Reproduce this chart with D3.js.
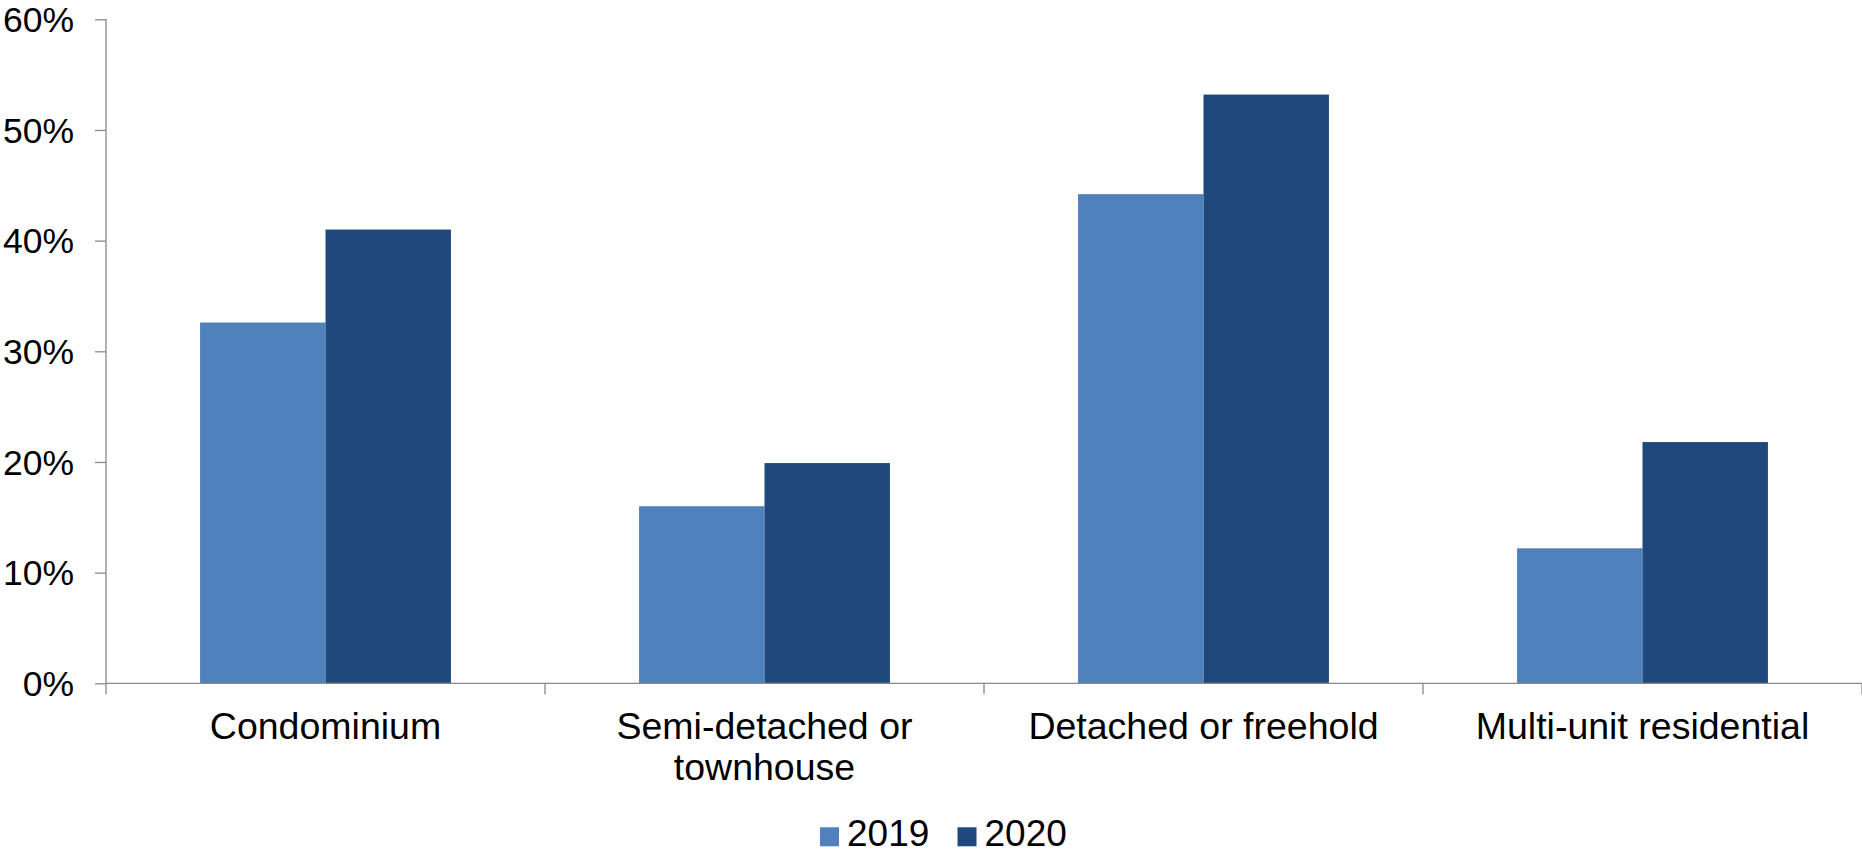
<!DOCTYPE html>
<html>
<head>
<meta charset="utf-8">
<script src="https://cdn.jsdelivr.net/npm/d3@7"></script>
<style>
  html, body { margin: 0; padding: 0; background: #ffffff; }
  svg { display: block; font-family: "Liberation Sans", Arial, sans-serif; }
</style>
</head>
<body>
<svg id="chart" width="1862" height="855"></svg>
<script>
// Share of purchases by property type, 2019 vs 2020
const categories = ["Condominium", "Semi-detached or townhouse", "Detached or freehold", "Multi-unit residential"];
const seriesNames = ["2019", "2020"];
const values2019 = [32.6, 16.0, 44.2, 12.2];
const values2020 = [41.0, 19.9, 53.2, 21.8];
const yTicks = [0, 10, 20, 30, 40, 50, 60];
const colors = ["#4F81BD", "#1F497D"];

const seriesValues = [values2019, values2020];

const svg = d3.select("#chart");
const plot = { left: 106, right: 1862, top: 19.3, bottom: 683.3 };
const axisColor = "#898989";
const fontSize = 37.5;

const x0 = d3.scaleBand()
  .domain(categories)
  .range([plot.left, plot.right])
  .paddingInner(0)
  .paddingOuter(0);

const x1 = d3.scaleBand()
  .domain(seriesNames)
  .range([0, x0.bandwidth()])
  .paddingInner(0)
  .paddingOuter(0.75);

const y = d3.scaleLinear()
  .domain([0, 60])
  .range([plot.bottom, plot.top]);

// Bars
const groups = svg.append("g").attr("class", "bars")
  .selectAll("g")
  .data(categories)
  .join("g")
  .attr("transform", d => `translate(${x0(d)},0)`);

groups.selectAll("rect")
  .data((d, i) => seriesNames.map((s, j) => ({ s, v: seriesValues[j][i], j })))
  .join("rect")
  .attr("x", d => x1(d.s))
  .attr("y", d => y(d.v))
  .attr("width", x1.bandwidth())
  .attr("height", d => y(0) - y(d.v))
  .attr("fill", d => colors[d.j]);

// Y axis
const yAxis = d3.axisLeft(y)
  .tickValues(yTicks)
  .tickSize(11)
  .tickPadding(21)
  .tickFormat(d => d + "%");

const gy = svg.append("g")
  .attr("transform", `translate(${plot.left},0)`)
  .call(yAxis);
gy.select(".domain").remove();
gy.selectAll(".tick line").attr("stroke", axisColor).attr("stroke-width", 1.3);
gy.selectAll(".tick text")
  .attr("font-size", 35.5)
  .attr("font-family", "Liberation Sans, Arial, sans-serif")
  .attr("fill", "#000")
  .attr("dy", "0.34em");
gy.append("line")
  .attr("x1", 0).attr("x2", 0)
  .attr("y1", plot.top).attr("y2", plot.bottom + 11)
  .attr("stroke", axisColor).attr("stroke-width", 1.3);

// X axis
const gx = svg.append("g").attr("transform", `translate(0,${plot.bottom})`);
gx.append("line")
  .attr("x1", plot.left).attr("x2", plot.right)
  .attr("y1", 0).attr("y2", 0)
  .attr("stroke", axisColor).attr("stroke-width", 1.3);
const boundaries = categories.map(c => x0(c)).concat([x0(categories[categories.length - 1]) + x0.bandwidth()]);
gx.selectAll("line.cat-tick")
  .data(boundaries.slice(1))
  .join("line")
  .attr("class", "cat-tick")
  .attr("x1", d => d).attr("x2", d => d)
  .attr("y1", 0).attr("y2", 11)
  .attr("stroke", axisColor).attr("stroke-width", 1.3);

// Category labels, wrapped to the band width
const labels = svg.append("g")
  .selectAll("text")
  .data(categories)
  .join("text")
  .attr("x", d => x0(d) + x0.bandwidth() / 2)
  .attr("y", 738.5)
  .attr("text-anchor", "middle")
  .attr("font-size", fontSize)
  .attr("fill", "#000");

const maxW = x0.bandwidth() - 20;
labels.each(function (d) {
  const t = d3.select(this);
  const words = d.split(" ");
  let line = [];
  let tspan = t.append("tspan").attr("x", t.attr("x")).attr("dy", 0);
  words.forEach(w => {
    line.push(w);
    tspan.text(line.join(" "));
    if (tspan.node().getComputedTextLength() > maxW && line.length > 1) {
      line.pop();
      tspan.text(line.join(" "));
      line = [w];
      tspan = t.append("tspan").attr("x", t.attr("x")).attr("dy", 41.7).text(w);
    }
  });
});

// Legend
const legendItems = [
  { name: seriesNames[0], color: colors[0], x: 820 },
  { name: seriesNames[1], color: colors[1], x: 957.5 }
];
const legend = svg.append("g");
legendItems.forEach(it => {
  legend.append("rect")
    .attr("x", it.x).attr("y", 827.3)
    .attr("width", 19).attr("height", 19)
    .attr("fill", it.color);
  legend.append("text")
    .attr("x", it.x + 27).attr("y", 845.5)
    .attr("font-size", 37)
    .attr("fill", "#000")
    .text(it.name);
});
</script>
</body>
</html>
